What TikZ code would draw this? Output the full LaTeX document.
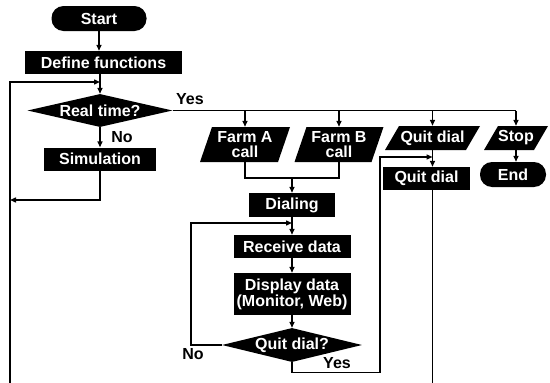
\documentclass[tikz,border=0pt]{standalone}
\usepackage{fontspec}
\setmainfont{Liberation Sans}
\usetikzlibrary{arrows.meta,shapes.geometric,calc}
\begin{document}
\begin{tikzpicture}[x=1pt,y=-1pt,
  txt/.style={font=\fontsize{16}{14.5}\selectfont\bfseries},
  blk/.style={txt, fill=black, text=white, inner sep=0pt, align=center},
  proc/.style={blk, rectangle},
  term/.style={blk, rectangle, rounded corners=12pt},
  dec/.style={blk, diamond},
  para/.style={txt, text=white, inner sep=0pt, align=center,
    path picture={\fill[black] (path picture bounding box.south west)
      -- ([xshift=#1]path picture bounding box.north west)
      -- (path picture bounding box.north east)
      -- ([xshift=-#1]path picture bounding box.south east) -- cycle;}},
  line/.style={line width=1.4pt},
  arr/.style={line, -{Triangle[length=6pt,width=5pt]}},
  lbl/.style={txt, inner sep=0pt}
]
\useasboundingbox (0,0) rectangle (550,383);

% left column
\node[term, minimum width=95pt, minimum height=25pt] (start) at (99,18.5) {Start};
\node[proc, minimum width=157pt, minimum height=23pt] (def) at (103.5,62.5) {Define functions};
\node[dec, minimum width=145pt, minimum height=33pt, aspect=4.4] (rt) at (100,110.5) {Real time?};
\node[proc, minimum width=112pt, minimum height=23pt] (sim) at (100,159) {Simulation};

% top row
\node[para=12pt, minimum width=90pt, minimum height=35pt] (fa) at (245,144.5) {Farm A\\call};
\node[para=12pt, minimum width=89pt, minimum height=35pt] (fb) at (339,144.5) {Farm B\\call};
\node[para=14pt, minimum width=95pt, minimum height=24pt] (qd) at (432.5,138) {Quit dial};
\node[para=14pt, minimum width=64pt, minimum height=24pt] (stop) at (516,138) {Stop};
\node[proc, minimum width=87pt, minimum height=23pt] (qdb) at (426.5,178.5) {Quit dial};
\node[term, minimum width=66pt, minimum height=25pt] (end) at (513,174.5) {End};

% middle column
\node[proc, minimum width=86pt, minimum height=24pt] (dial) at (292,205) {Dialing};
\node[proc, minimum width=117pt, minimum height=23pt] (rec) at (292,246.5) {Receive data};
\node[proc, minimum width=117pt, minimum height=42pt] (disp) at (292,294) {Display data\\(Monitor, Web)};
\node[dec, minimum width=140pt, minimum height=34pt, aspect=4.1] (qd2) at (292,345) {Quit dial?};

% labels
\node[lbl] (yes1) at (190,99) {Yes};
\node[lbl] (no1) at (122,137) {No};
\node[lbl] (no2) at (193,354) {No};
\node[lbl] (yes2) at (337,363) {Yes};

% coordinates
\coordinate (j1) at (100,82);
\coordinate (bl) at (10,383);
\coordinate (j2) at (10,200);
\coordinate (m) at (292,178);
\coordinate (j3) at (292,223);
\coordinate (c380) at (380,157);
\coordinate (j4) at (432.5,157);
\coordinate (bb) at (432.5,383);

% connectors, left column
\draw[arr] (start) -- (start |- def.north);
\draw[arr] (def.south -| rt) -- (rt.north);
\draw[arr] (bl) |- (j1);
\draw[arr] (rt.south) -- (rt.south |- sim.north);
\draw[arr] (sim.south) |- (j2);

% yes branch
\draw[line] (rt.east) -- (rt.east -| stop);
\draw[arr] (fa.north |- rt.east) -- (fa.north);
\draw[arr] (fb.north |- rt.east) -- (fb.north);
\draw[arr] (qd.north |- rt.east) -- (qd.north);
\draw[arr] (stop.north |- rt.east) -- (stop.north);
\draw[arr] (stop.south) -- (stop.south |- end.north);
\draw[arr] (qd.south) -- (qd.south |- qdb.north);
\draw[line] (qdb.south -| qd) -- (bb);

% farm merge
\draw[line] (fa.south) |- (m) -| (fb.south);
\draw[arr] (m) -- (dial.north);

% middle column
\draw[arr] (dial) -- (rec);
\draw[arr] (rec) -- (disp);
\draw[arr] (disp) -- (qd2);
\draw[arr] (qd2.west) -- ++(-31,0) |- (j3);
\draw[arr] (qd2.south) -- ++(0,10) -| (c380) -- (j4);
\end{tikzpicture}
\end{document}
